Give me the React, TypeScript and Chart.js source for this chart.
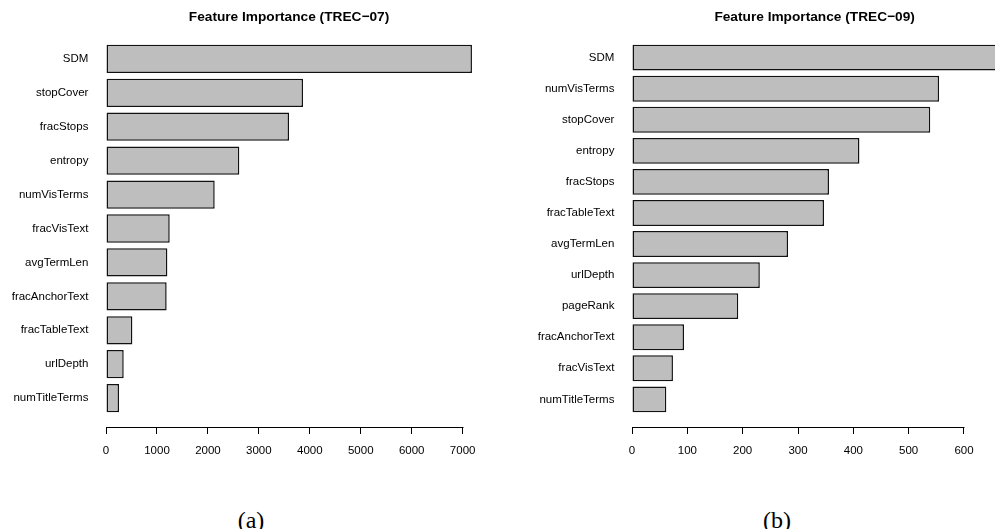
import React, { useEffect, useRef } from "react";
import { Chart, registerables } from "chart.js";

Chart.register(...registerables);

// ---- Data ----
const trec07Title = "Feature Importance (TREC\u221207)";
const trec07Features = [
  "SDM",
  "stopCover",
  "fracStops",
  "entropy",
  "numVisTerms",
  "fracVisText",
  "avgTermLen",
  "fracAnchorText",
  "fracTableText",
  "urlDepth",
  "numTitleTerms",
];
const trec07Importance = [7183, 3867, 3592, 2616, 2133, 1250, 1204, 1190, 517, 347, 255];
const trec07Ticks = [0, 1000, 2000, 3000, 4000, 5000, 6000, 7000];

const trec09Title = "Feature Importance (TREC\u221209)";
const trec09Features = [
  "SDM",
  "numVisTerms",
  "stopCover",
  "entropy",
  "fracStops",
  "fracTableText",
  "avgTermLen",
  "urlDepth",
  "pageRank",
  "fracAnchorText",
  "fracVisText",
  "numTitleTerms",
];
const trec09Importance = [660, 555, 539, 411, 356, 347, 282, 231, 192, 94, 74, 62];
const trec09Ticks = [0, 100, 200, 300, 400, 500, 600];

const captions = ["(a)", "(b)"];

// ---- Layout (page pixels) ----
const PAGE_W = 995;
const PAGE_H = 529;
const CANVAS_H = 475;
const PLOT_TOP = 30;
const PLOT_BOTTOM = 427;

const panels = [
  { canvasLeft: 0, canvasWidth: 497, plotLeft: 91.4, plotRight: 486.6 },
  { canvasLeft: 497, canvasWidth: 530, plotLeft: 617.4, plotRight: 1011.8 },
];

const FONT_FAMILY = "'Liberation Sans', Arial, Helvetica, sans-serif";
const LABEL_SIZE = 11.5;
const TITLE_SIZE = 13.7;

const axisLinePlugin = {
  id: "rAxisLine",
  afterDraw(chart: any) {
    const s = chart.scales.x;
    const t = s.ticks;
    if (!t || !t.length) return;
    const x0 = Math.round(s.getPixelForValue(t[0].value)) + 0.5;
    const x1 = Math.round(s.getPixelForValue(t[t.length - 1].value)) + 0.5;
    const y = Math.round(chart.chartArea.bottom) + 0.5;
    const ctx = chart.ctx;
    ctx.save();
    ctx.strokeStyle = "#000";
    ctx.lineWidth = 1;
    ctx.beginPath();
    ctx.moveTo(x0, y);
    ctx.lineTo(x1, y);
    ctx.stroke();
    ctx.restore();
  },
};

function makeConfig(
  title: string,
  features: string[],
  values: number[],
  ticks: number[],
  panel: { canvasLeft: number; canvasWidth: number; plotLeft: number; plotRight: number }
): any {
  const n = features.length;
  const barWidth = 1;
  const space = 0.2;
  const centers = features.map((_, i) => space + barWidth / 2 + i * (space + barWidth));
  const lo = space;
  const hi = n * (space + barWidth);
  const padY = (hi - lo) * 0.04;
  const maxV = Math.max(...values);
  const padX = maxV * 0.04;
  const localLeft = panel.plotLeft - panel.canvasLeft;
  const localRight = panel.plotRight - panel.canvasLeft;
  const font = { family: FONT_FAMILY, size: LABEL_SIZE };

  return {
    type: "bar",
    data: {
      datasets: [
        {
          data: values.map((v, i) => ({ x: v, y: centers[i] })),
          backgroundColor: "#bebebe",
          borderColor: "#111111",
          borderWidth: 1.5,
          borderSkipped: false,
          barPercentage: barWidth / (barWidth + space),
          categoryPercentage: 1,
        },
      ],
    },
    options: {
      indexAxis: "y",
      animation: false,
      responsive: false,
      maintainAspectRatio: false,
      layout: {
        padding: { left: 0, top: 0, bottom: 0, right: panel.canvasWidth - localRight },
      },
      plugins: {
        legend: { display: false },
        tooltip: { enabled: false },
        title: {
          display: true,
          text: title,
          fullSize: false,
          color: "#000",
          font: { family: FONT_FAMILY, size: TITLE_SIZE, weight: "bold" },
          padding: { top: 9, bottom: PLOT_TOP - 9 - TITLE_SIZE * 1.2 },
        },
      },
      scales: {
        x: {
          type: "linear",
          position: "bottom",
          offset: false,
          min: -padX,
          max: maxV + padX,
          afterBuildTicks: (s: any) => {
            s.ticks = ticks.map((v) => ({ value: v }));
          },
          afterFit: (s: any) => {
            s.height = CANVAS_H - PLOT_BOTTOM;
          },
          grid: {
            display: true,
            offset: false,
            drawOnChartArea: false,
            drawTicks: true,
            tickLength: 7,
            color: "#000",
            lineWidth: 1,
          },
          border: { display: false },
          ticks: {
            autoSkip: false,
            maxRotation: 0,
            padding: 10,
            color: "#000",
            font,
            callback: (v: any) => String(v),
          },
        },
        y: {
          type: "linear",
          reverse: true,
          offset: false,
          min: lo - padY,
          max: hi + padY,
          afterBuildTicks: (s: any) => {
            s.ticks = centers.map((v) => ({ value: v }));
          },
          afterFit: (s: any) => {
            s.width = localLeft;
          },
          grid: { display: false, drawTicks: false, offset: false },
          border: { display: false },
          ticks: {
            autoSkip: false,
            padding: 3,
            color: "#000",
            font,
            callback: (_v: any, i: number) => features[i],
          },
        },
      },
    },
    plugins: [axisLinePlugin],
  };
}

function BarPanel(props: {
  title: string;
  features: string[];
  values: number[];
  ticks: number[];
  panel: { canvasLeft: number; canvasWidth: number; plotLeft: number; plotRight: number };
}) {
  const ref = useRef<HTMLCanvasElement | null>(null);
  useEffect(() => {
    if (!ref.current) return;
    const chart = new Chart(
      ref.current,
      makeConfig(props.title, props.features, props.values, props.ticks, props.panel)
    );
    return () => chart.destroy();
  }, []);
  return (
    <canvas
      ref={ref}
      width={props.panel.canvasWidth}
      height={CANVAS_H}
      style={{
        position: "absolute",
        left: props.panel.canvasLeft,
        top: 0,
        width: props.panel.canvasWidth,
        height: CANVAS_H,
      }}
    />
  );
}

export default function App() {
  const captionCenters = [251, 777];
  return (
    <div
      style={{
        position: "fixed",
        left: 0,
        top: 0,
        width: PAGE_W,
        height: PAGE_H,
        overflow: "hidden",
        background: "#fff",
      }}
    >
      <BarPanel
        title={trec07Title}
        features={trec07Features}
        values={trec07Importance}
        ticks={trec07Ticks}
        panel={panels[0]}
      />
      <BarPanel
        title={trec09Title}
        features={trec09Features}
        values={trec09Importance}
        ticks={trec09Ticks}
        panel={panels[1]}
      />
      {captions.map((c, i) => (
        <div
          key={c}
          style={{
            position: "absolute",
            left: captionCenters[i] - 40,
            width: 80,
            top: 508,
            textAlign: "center",
            fontFamily: "'Liberation Serif', 'DejaVu Serif', serif",
            fontSize: 24,
            lineHeight: "24px",
            color: "#000",
          }}
        >
          {c}
        </div>
      ))}
    </div>
  );
}
